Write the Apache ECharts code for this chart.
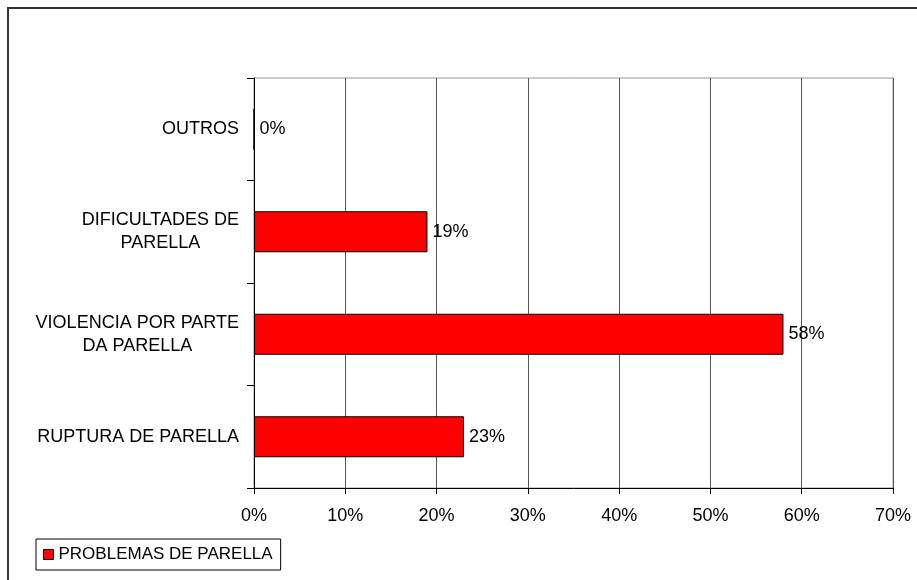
<!DOCTYPE html>
<html>
<head>
<meta charset="utf-8">
<script src="https://cdn.jsdelivr.net/npm/echarts@6/dist/echarts.min.js"></script>
<style>
  html, body { margin: 0; padding: 0; background: #fff; }
  #chart { width: 917px; height: 580px; }
</style>
</head>
<body>
<div id="chart"></div>
<script>
// Categories listed bottom-to-top (category axis grows upward)
const categories = [
  'RUPTURA DE PARELLA',
  'VIOLENCIA POR PARTE\nDA PARELLA',
  'DIFICULTADES DE\nPARELLA',
  'OUTROS'
];
const seriesName = 'PROBLEMAS DE PARELLA';
const values = [23, 58, 19, 0];
const axisMax = 70;
const axisStep = 10;

const FONT = '"Liberation Sans", Arial, sans-serif';
const chart = echarts.init(document.getElementById('chart'));

chart.setOption({
  animation: false,
  backgroundColor: '#fff',
  textStyle: { fontFamily: FONT },
  graphic: [{
    type: 'rect',
    shape: { x: 8, y: 8, width: 1000, height: 1000 },
    style: { fill: 'none', stroke: '#333', lineWidth: 2 },
    silent: true,
    z: -1
  }],
  grid: {
    left: 254, right: 24, top: 78, bottom: 92,
    show: true, borderColor: '#999', borderWidth: 1
  },
  xAxis: {
    type: 'value',
    min: 0, max: axisMax, interval: axisStep,
    axisLine: { show: true, lineStyle: { color: '#000', width: 1 } },
    axisTick: { show: true, length: 6, lineStyle: { color: '#000' } },
    axisLabel: {
      formatter: '{value}%', color: '#000', fontSize: 18,
      fontFamily: FONT, margin: 19
    },
    splitLine: { show: true, lineStyle: { color: '#555', width: 1 } }
  },
  yAxis: {
    type: 'category',
    data: categories,
    axisLine: { show: true, lineStyle: { color: '#000', width: 1 } },
    axisTick: { show: true, length: 7, lineStyle: { color: '#000' } },
    axisLabel: {
      color: '#000', fontSize: 18, fontFamily: FONT, margin: 15,
      lineHeight: 23,
      formatter: function (v) {
        return v.split('\n').map(function (s) { return '{c|' + s + '}'; }).join('\n');
      },
      rich: {
        c: { align: 'center', fontSize: 18, fontFamily: FONT, color: '#000', lineHeight: 23 }
      }
    },
    splitLine: { show: false }
  },
  legend: {
    show: true,
    left: 36, top: 539,
    orient: 'horizontal',
    padding: [7, 8, 7, 7],
    borderColor: '#000', borderWidth: 1,
    itemWidth: 10, itemHeight: 10, itemGap: 6,
    icon: 'rect',
    itemStyle: { color: '#ff0000', borderColor: '#000', borderWidth: 1 },
    textStyle: { color: '#000', fontSize: 17, fontFamily: FONT, padding: [0, 0, 0, 0] },
    data: [seriesName]
  },
  series: [{
    name: seriesName,
    type: 'bar',
    data: values,
    barWidth: '40%',
    itemStyle: { color: '#ff0000', borderColor: '#000', borderWidth: 1 },
    label: {
      show: true, position: 'right', distance: 5,
      formatter: '{c}%', color: '#000', fontSize: 18, fontFamily: FONT
    }
  }]
});
</script>
</body>
</html>
